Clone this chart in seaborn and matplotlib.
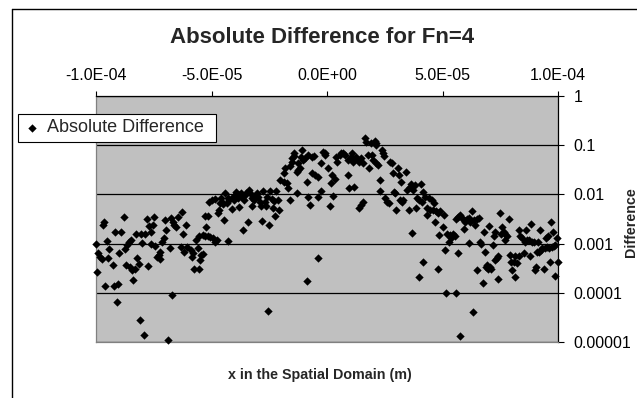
import numpy as np
import matplotlib
matplotlib.use("Agg")
import matplotlib.pyplot as plt
from matplotlib.lines import Line2D
from matplotlib.ticker import NullLocator
import seaborn as sns

# Sample positions (micrometres) and absolute differences, grouped by region
x_far_left = [-100.0, -99.6, -99.0, -98.1, -97.6, -96.7, -97.1, -96.1, -95.3, -94.3, -94.7, -92.8, -92.4,
              -91.8, -91.0, -90.4, -90.0, -89.0, -87.8, -87.6, -87.1, -86.4, -85.7, -85.3, -84.7, -84.3,
              -83.8, -83.3, -82.8, -82.4, -81.4, -81.0, -80.4, -80.0, -79.3, -78.6, -78.1, -77.6, -77.1,
              -76.4, -76.1, -75.3, -74.7, -74.3, -73.6, -72.9, -72.4, -72.1, -71.4, -70.7, -70.0, -69.6,
              -69.0, -68.1, -67.6, -67.1, -66.7, -66.1, -65.3, -64.3, -63.3, -62.9, -62.4, -61.9, -61.0, -60.4]
d_far_left = [9.8e-4, 2.7e-4, 6.3e-4, 5.3e-4, 4.8e-4, 2.8e-3, 2.4e-3, 1.4e-4, 1.15e-3, 7.7e-4, 5.0e-4, 3.7e-4,
              1.4e-4, 1.75e-3, 6.6e-5, 1.5e-4, 6.3e-4, 1.7e-3, 3.5e-3, 7.7e-4, 3.7e-4, 9.4e-4, 1.1e-3, 3.4e-4,
              1.2e-3, 2.9e-4, 1.8e-4, 3.0e-4, 1.6e-3, 5.0e-4, 3.8e-4, 2.8e-5, 1.6e-3, 1.05e-3, 1.4e-5, 1.6e-3,
              3.1e-3, 3.5e-4, 2.3e-3, 1.7e-3, 9.8e-4, 2.4e-3, 3.4e-3, 8.9e-4, 5.4e-4, 5.9e-4, 4.8e-4, 6.9e-4,
              1.1e-3, 1.3e-3, 3.0e-3, 1.9e-3, 1.1e-5, 8.0e-4, 3.3e-3, 9.0e-5, 2.7e-3, 2.4e-3, 2.2e-3, 3.5e-3,
              8.4e-4, 4.3e-3, 1.6e-3, 6.9e-4, 2.4e-3, 8.7e-4]

x_left = [-58.7, -58.0, -58.3, -55.9, -54.4, -54.9, -53.7, -57.7, -55.2, -56.6, -55.4, -53.7, -52.6, -51.6,
          -50.6, -49.4, -48.7, -47.7, -43.0, -53.0, -51.6, -52.3, -50.9, -49.7, -48.3, -47.3, -46.6, -46.3,
          -45.4, -44.4, -44.0, -43.0, -42.3, -41.2, -40.9, -39.7, -38.7, -38.3, -37.3, -36.3, -35.9, -34.9,
          -34.4, -33.7, -32.6, -32.3, -31.2, -30.6, -29.7, -28.7, -28.0, -27.7, -26.9, -26.3, -25.2, -24.5,
          -23.5, -23.0, -22.6, -22.0, -21.2, -20.6, -20.2, -25.5, -45.9, -44.9, -43.4, -40.2, -39.4, -38.0,
          -36.6, -35.4, -33.0, -31.6, -30.2, -29.2, -25.9, -24.0]
d_left = [7.4e-4, 6.3e-4, 5.3e-4, 8.0e-4, 5.9e-4, 4.6e-4, 6.1e-4, 3.0e-4, 3.1e-4, 1.2e-3, 1.4e-3, 1.5e-3,
          1.4e-3, 1.4e-3, 1.35e-3, 1.3e-3, 1.1e-3, 1.2e-3, 1.15e-3, 3.6e-3, 3.6e-3, 2.2e-3, 7.1e-3, 7.7e-3,
          7.9e-3, 4.1e-3, 4.8e-3, 6.6e-3, 7.1e-3, 3.0e-3, 1.05e-2, 8.3e-3, 7.7e-3, 5.0e-3, 9.0e-3, 9.7e-3,
          8.3e-3, 5.5e-3, 1.05e-2, 1.9e-3, 7.7e-3, 1.08e-2, 2.7e-3, 1.23e-2, 5.8e-3, 8.3e-3, 9.0e-3, 9.7e-3,
          8.7e-3, 5.8e-3, 2.9e-3, 1.19e-2, 7.1e-3, 5.8e-3, 2.4e-3, 1.19e-2, 5.2e-3, 7.5e-3, 3.6e-3, 1.19e-2,
          7.7e-3, 4.8e-3, 2.0e-2, 4.3e-5, 8.3e-3, 6.4e-3, 6.8e-3, 7.7e-3, 1.14e-2, 9.7e-3, 9.0e-3, 9.7e-3,
          1.02e-2, 7.7e-3, 1.08e-2, 7.1e-3, 9.0e-3, 7.9e-3]

x_centre = [-16.7, -16.0, -13.1, -8.4, -7.4, -3.8, -2.7, 1.2, 2.6, 14.0, 14.7, 15.4, -18.1, -18.8, -18.4,
            -17.4, -16.0, -15.0, -14.1, -15.3, -13.1, -12.4, -11.7, -11.0, -10.3, -11.3, -9.5, -6.7, -5.5,
            -6.7, -8.8, -5.3, -4.1, -2.4, -1.7, -0.7, 0.5, 1.9, 2.2, 3.3, 4.0, 4.4, 5.5, 6.9, 7.6, 9.0, 9.3,
            9.7, 10.7, 11.2, 11.9, 12.6, 13.3, 14.0, 15.4, 16.4, 16.9, 17.9, 18.3, 19.0, 19.7, -4.1, -8.8,
            -14.5, -8.1, -1.0, 6.2, 10.2, 11.6, 14.7, -12.4]
d_centre = [1.33e-2, 7.7e-3, 1.05e-2, 8.7e-3, 6.1e-3, 9.0e-3, 1.19e-2, 5.8e-3, 9.3e-3, 5.2e-3, 6.1e-3, 7.1e-3,
            3.4e-2, 2.7e-2, 1.8e-2, 1.73e-2, 3.7e-2, 5.4e-2, 6.8e-2, 4.6e-2, 2.9e-2, 3.1e-2, 3.4e-2, 8.0e-2,
            5.0e-2, 5.8e-2, 5.4e-2, 5.8e-2, 6.0e-2, 2.7e-2, 1.8e-2, 2.5e-2, 2.3e-2, 4.3e-2, 7.4e-2, 6.3e-2,
            3.4e-2, 1.68e-2, 2.5e-2, 2.1e-2, 5.8e-2, 4.6e-2, 6.3e-2, 6.8e-2, 6.3e-2, 5.0e-2, 2.5e-2, 1.33e-2,
            6.8e-2, 4.6e-2, 1.44e-2, 5.8e-2, 5.0e-2, 4.6e-2, 4.3e-2, 1.38e-1, 1.18e-1, 6.3e-2, 3.4e-2, 1.09e-1,
            5.0e-2, 5.0e-4, 1.77e-4, 6.0e-2, 6.3e-2, 6.8e-2, 7.0e-2, 5.7e-2, 5.2e-2, 5.4e-2, 4.3e-2]

x_right = [20.6, 21.0, 21.4, 19.6, 21.4, 22.0, 23.1, 22.8, 23.8, 24.3, 24.8, 25.3, 26.0, 26.7, 27.4, 28.1,
           28.6, 29.1, 29.6, 30.0, 30.6, 31.0, 31.7, 32.0, 32.4, 33.1, 34.3, 34.6, 35.3, 36.0, 36.3, 36.7,
           37.1, 38.1, 38.6, 39.1, 40.0, 40.5, 41.0, 41.4, 41.7, 40.0, 42.4, 43.1, 43.4, 44.3, 44.5, 45.3,
           46.0, 46.3, 46.7, 47.4, 48.1, 48.5, 48.8, 48.1, 50.0, 50.5, 51.0, 51.4, 52.0, 52.8, 53.1, 53.8,
           54.5, 55.3, 56.0, 56.7, 55.7, 56.7, 57.7, 58.5, 59.1, 57.7]
d_right = [1.24e-1, 1.0e-1, 1.12e-1, 6.3e-2, 4.4e-2, 4.0e-2, 2.0e-2, 1.19e-2, 8.0e-2, 6.8e-2, 6.0e-2, 8.3e-3,
           7.1e-3, 6.6e-3, 4.6e-2, 4.3e-2, 2.7e-2, 1.14e-2, 1.08e-2, 4.8e-3, 3.4e-2, 2.5e-2, 7.7e-3, 1.8e-2,
           7.1e-3, 7.7e-3, 2.8e-2, 1.23e-2, 4.8e-3, 1.44e-2, 1.63e-2, 1.67e-3, 1.23e-2, 1.55e-2, 5.2e-3,
           8.3e-3, 7.7e-3, 1.63e-2, 7.1e-3, 1.14e-2, 4.3e-4, 2.1e-4, 9.0e-3, 3.8e-3, 5.2e-3, 8.3e-3, 4.8e-3,
           7.7e-3, 4.8e-3, 6.6e-3, 2.8e-3, 4.5e-3, 4.1e-3, 1.5e-3, 4.5e-3, 3.0e-4, 2.2e-3, 3.8e-3, 7.4e-4,
           1.0e-4, 1.6e-3, 1.1e-3, 1.5e-3, 1.3e-3, 1.6e-3, 1.4e-3, 1.0e-4, 6.5e-4, 3.1e-3, 3.4e-3, 3.8e-3,
           3.3e-3, 2.0e-3, 1.3e-5]

x_far_right = [59.2, 59.9, 60.6, 61.3, 62.0, 62.8, 63.5, 64.2, 64.9, 65.7, 61.6, 64.9, 66.4, 66.8, 67.4, 67.8,
               68.5, 68.8, 69.3, 69.7, 70.0, 70.7, 71.1, 71.7, 72.1, 72.6, 72.9, 73.6, 74.0, 74.0, 75.0, 75.5,
               75.8, 76.5, 76.9, 77.2, 77.9, 78.6, 79.4, 79.8, 80.1, 80.8, 81.2, 81.5, 82.3, 83.0, 83.3, 83.7,
               84.4, 85.1, 85.6, 86.1, 86.6, 87.3, 88.0, 88.5, 88.7, 89.5, 90.2, 90.5, 90.9, 91.3, 91.9, 92.3,
               92.8, 93.1, 93.8, 94.2, 94.8, 95.2, 95.7, 96.2, 96.7, 97.1, 97.4, 97.7, 98.1, 98.6, 98.8, 99.6,
               100.0, 63.1]
d_far_right = [3.0e-3, 2.8e-3, 3.1e-3, 3.3e-3, 2.8e-3, 4.7e-3, 3.0e-3, 2.4e-3, 3.1e-3, 3.3e-3, 1.05e-3, 2.9e-4,
               1.1e-3, 9.8e-4, 1.56e-4, 1.75e-3, 6.9e-4, 3.4e-4, 3.7e-4, 3.1e-4, 2.3e-3, 3.4e-4, 3.0e-4, 9.4e-4,
               1.4e-3, 1.7e-3, 4.6e-4, 5.0e-4, 5.6e-4, 1.9e-4, 4.1e-3, 1.6e-3, 2.2e-3, 1.75e-3, 1.57e-3, 1.18e-3,
               1.4e-3, 3.1e-3, 5.9e-4, 4.3e-4, 2.9e-4, 4.3e-4, 2.06e-4, 5.6e-4, 4.0e-4, 5.6e-4, 1.9e-3, 1.4e-3,
               1.3e-3, 6.3e-4, 1.1e-3, 1.9e-3, 1.18e-3, 1.18e-3, 5.6e-4, 2.5e-3, 1.1e-3, 1.1e-3, 2.9e-4, 3.4e-4,
               6.9e-4, 1.1e-3, 6.9e-4, 1.9e-3, 7.4e-4, 8.0e-4, 3.1e-4, 8.0e-4, 1.3e-3, 8.7e-4, 1.4e-3, 8.0e-4,
               4.3e-4, 2.7e-3, 8.7e-4, 1.7e-3, 8.9e-4, 9.4e-4, 2.2e-4, 1.3e-3, 4.3e-4, 4.1e-5]

x_tick_values = [-1.0e-4, -5.0e-5, 0.0, 5.0e-5, 1.0e-4]
x_tick_labels = ["-1.0E-04", "-5.0E-05", "0.0E+00", "5.0E-05", "1.0E-04"]
y_tick_values = [1, 0.1, 0.01, 0.001, 0.0001, 0.00001]
y_tick_labels = ["1", "0.1", "0.01", "0.001", "0.0001", "0.00001"]

x_um = np.concatenate([x_far_left, x_left, x_centre, x_right, x_far_right])
x_m = x_um * 1e-6
diff = np.concatenate([d_far_left, d_left, d_centre, d_right, d_far_right])

sns.set_style("white")
plt.rcParams["font.family"] = ["Liberation Sans", "DejaVu Sans"]

W, H = 637, 398
fig = plt.figure(figsize=(W / 100, H / 100), dpi=100)
fig.patch.set_facecolor("white")

# plot area in pixel terms: left 96, right 558, top 96, bottom 342
ax = fig.add_axes([96 / W, (H - 342) / H, 462 / W, 246 / H])
ax.set_facecolor("#C0C0C0")

sns.scatterplot(x=x_m, y=diff, marker="D", color="black", s=18, linewidth=0,
                ax=ax, label="Absolute Difference", clip_on=False, zorder=3)

ax.set_yscale("log")
ax.set_xlim(-1.0e-4, 1.0e-4)
ax.set_ylim(1e-5, 1)
ax.set_xticks(x_tick_values, labels=x_tick_labels)
ax.set_yticks(y_tick_values, labels=y_tick_labels)
ax.yaxis.set_minor_locator(NullLocator())
ax.xaxis.set_minor_locator(NullLocator())
ax.set_xlabel("")
ax.set_ylabel("")

ax.grid(axis="y", which="major", color="black", linewidth=0.9)
ax.grid(axis="x", visible=False)
ax.set_axisbelow(True)

ax.xaxis.tick_top()
ax.yaxis.tick_right()
ax.tick_params(axis="x", which="major", direction="out", length=3.5, width=0.8,
               pad=6, labelsize=11.5, colors="black", top=True, bottom=False,
               labeltop=True, labelbottom=False)
ax.tick_params(axis="y", which="major", direction="out", length=4.5, width=0.8,
               pad=6.5, labelsize=11.5, colors="black", right=True, left=False,
               labelright=True, labelleft=False)

for side in ["top", "right"]:
    ax.spines[side].set_color("black")
    ax.spines[side].set_linewidth(0.9)
for side in ["left", "bottom"]:
    ax.spines[side].set_color("#808080")
    ax.spines[side].set_linewidth(0.9)

leg = ax.legend(loc="upper left", mode="expand",
                bbox_to_anchor=(18 / W, (H - 141) / H, 198 / W, 27 / H),
                bbox_transform=fig.transFigure, frameon=True, fancybox=False,
                edgecolor="black", framealpha=1, borderaxespad=0, borderpad=0.3,
                handletextpad=0.4, handlelength=0.9, fontsize=13)
leg.get_frame().set_linewidth(0.8)

fig.text(322 / W, 1 - 43 / H, "Absolute Difference for Fn=4", ha="center", va="baseline",
         fontsize=16, fontweight="bold")
fig.text(320 / W, 1 - 375 / H, "x in the Spatial Domain (m)", ha="center", va="center",
         fontsize=10.3, fontweight="bold")
fig.text(631 / W, 1 - 222 / H, "Difference", ha="center", va="center", rotation=90,
         fontsize=10.3, fontweight="bold")

# chart area frame (left and top edges)
fig.add_artist(Line2D([12 / W, 12 / W], [0, 1 - 9 / H], color="black", linewidth=1,
                      transform=fig.transFigure))
fig.add_artist(Line2D([12 / W, 1], [1 - 9 / H, 1 - 9 / H], color="black", linewidth=1,
                      transform=fig.transFigure))

fig.savefig("out.png", dpi=100)
